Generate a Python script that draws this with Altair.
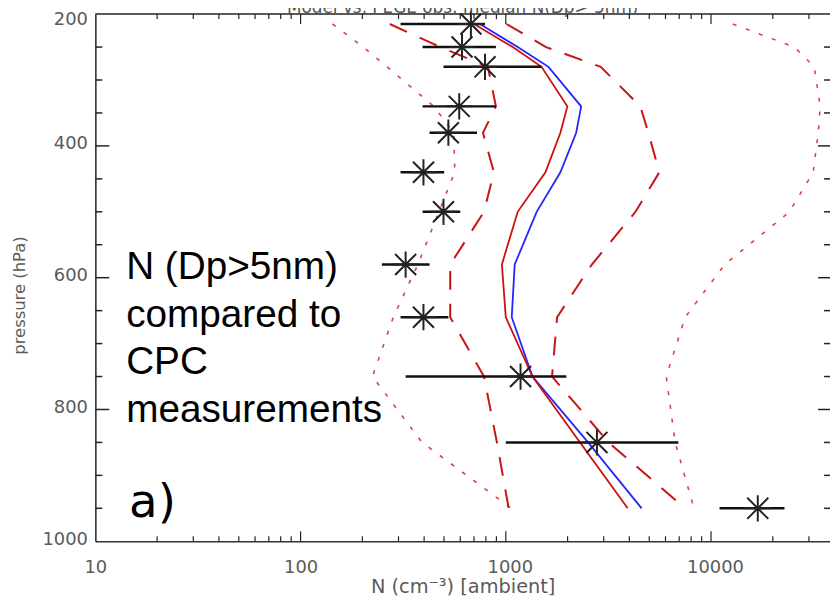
import altair as alt
import pandas as pd

# ---------------- data ----------------
p_levels = [215, 250, 280, 340, 380, 440, 500, 580, 660, 750, 850, 950]

# observations (CPC) : median and horizontal range
obs_n = [676, 612, 792, 593, 525, 397, 497, 325, 397, 1180, 2780, 16900]
obs_lo = [307, 393, 497, 393, 425, 307, 393, 249, 307, 325, 1000, 11000]
obs_hi = [792, 895, 1493, 895, 724, 501, 600, 425, 525, 1972, 6930, 22800]

# model profiles
model_red = [700, 1081, 1493, 1995, 1845, 1560, 1143, 957, 1000, 1349, 2301, 3926]
model_blue = [748, 1143, 1614, 2329, 2203, 1845, 1414, 1105, 1069, 1349, 2518, 4592]
red_p25 = [272, 480, 818, 895, 774, 875, 783, 536, 536, 783, 905, 1033]
red_p75 = [1006, 1570, 2900, 4525, 4950, 5600, 4285, 2625, 1778, 1680, 3170, 7480]
red_p10 = [143, 202, 264, 446, 558, 564, 472, 373, 283, 224, 391, 1064]
red_p90 = [12760, 25470, 31820, 34040, 33300, 31470, 24110, 11670, 7480, 6050, 6690, 8260]

# axis ticks
x_labels = [10, 100, 1000, 10000]
x_minor = [20, 30, 40, 50, 60, 70, 80, 90,
           200, 300, 400, 500, 600, 700, 800, 900,
           2000, 3000, 4000, 5000, 6000, 7000, 8000, 9000,
           20000, 30000]
x_major = [100, 1000, 10000]
y_labels = [200, 400, 600, 800, 1000]
y_minor = [250, 300, 350, 450, 500, 550, 650, 700, 750, 850, 900, 950]
y_major = [400, 600, 800]

title_text = "Model vs. PEGE obs: median N(Dp> 5nm)"
note_lines = ["N (Dp>5nm)", "compared to", "CPC", "measurements"]
panel_label = "a)"

# ---------------- layout ----------------
W, H = 740, 531
FONT = "DejaVu Sans"
LABEL_COLOR = "#5a5a5a"

xs = alt.Scale(type="log", domain=[10, 38000], nice=False)
ys = alt.Scale(domain=[200, 1000], reverse=True, nice=False, zero=False)

x_axis = alt.Axis(
    values=x_labels, format="d", ticks=False, grid=False,
    domain=True, domainColor="#333333", domainWidth=1.5,
    labelFont=FONT, labelFontSize=18, labelColor=LABEL_COLOR,
    labelPadding=17, labelFlush=False,
    labelOffset={"condition": {"test": "datum.value >= 1000", "value": 4}, "value": 0},
    title="N (cm\u207b\u00b3) [ambient]", titleFont=FONT,
    titleFontSize=19.5, titleFontWeight="normal", titleColor=LABEL_COLOR,
    titleY=46, titleBaseline="middle",
)
y_axis = alt.Axis(
    values=y_labels, format="d", ticks=False, grid=False,
    domain=True, domainColor="#222222", domainWidth=1.5,
    labelFont=FONT, labelFontSize=18, labelColor=LABEL_COLOR,
    labelPadding=8, labelFlush=False,
    labelOffset={"condition": {"test": "datum.value == 200", "value": 5}, "value": -2},
    title="pressure (hPa)", titleFont=FONT, titleFontSize=16.5,
    titleFontWeight="normal", titleColor=LABEL_COLOR,
    titleAngle=-90, titleX=-76, titleY=283, titleBaseline="middle",
)


def X(field):
    return alt.X(field, scale=xs, axis=x_axis)


def Y(field):
    return alt.Y(field, scale=ys, axis=y_axis)


rows = []
for name, vals in [("p10", red_p10), ("p90", red_p90), ("p25", red_p25),
                   ("p75", red_p75), ("blue", model_blue), ("red", model_red)]:
    for i, (p, n) in enumerate(zip(p_levels, vals)):
        rows.append({"series": name, "i": i, "p": p, "n": n})
lines_df = pd.DataFrame(rows)

obs_df = pd.DataFrame({"p": p_levels, "n": obs_n, "lo": obs_lo, "hi": obs_hi})


def line_layer(series, color, width, dash=None):
    kw = dict(color=color, strokeWidth=width)
    if dash:
        kw["strokeDash"] = dash
    return (
        alt.Chart(lines_df)
        .transform_filter(alt.FieldOneOfPredicate(field="series", oneOf=series))
        .mark_line(**kw)
        .encode(x=X("n:Q"), y=Y("p:Q"), detail="series:N", order="i:Q")
    )


dotted = line_layer(["p10", "p90"], "#d84444", 1.6, [4, 10])
dashed = line_layer(["p25", "p75"], "#c81414", 2, [19, 14])
blue = line_layer(["blue"], "#2424ff", 1.8)
red = line_layer(["red"], "#cc1010", 1.8)

bars = alt.Chart(obs_df).mark_rule(color="#111111", strokeWidth=2.5).encode(
    x=X("lo:Q"), x2="hi:Q", y=Y("p:Q")
)

star_path = "M0,-1L0,1M-1,0L1,0M-0.8,-0.8L0.8,0.8M-0.8,0.8L0.8,-0.8"
stars = alt.Chart(obs_df).mark_point(
    shape=star_path, filled=False, size=700, strokeWidth=2, color="#222222", opacity=1
).encode(x=X("n:Q"), y=Y("p:Q"))


# ---------------- frame ticks (inward) ----------------
def yticks(vals, x0, x1):
    return alt.Chart(pd.DataFrame({"p": vals})).mark_rule(
        color="#222222", strokeWidth=1.5
    ).encode(y=Y("p:Q"), x=alt.value(x0), x2=alt.value(x1))


def xticks(vals, y0, y1):
    return alt.Chart(pd.DataFrame({"n": vals})).mark_rule(
        color="#222222", strokeWidth=1.2
    ).encode(x=X("n:Q"), y=alt.value(y0), y2=alt.value(y1))


ticks = [
    yticks(y_minor, 0, 7), yticks(y_major, 0, 14),
    yticks(y_minor, W - 6, W), yticks(y_major, W - 12, W),
    xticks(x_minor, H, H - 5), xticks(x_major, H, H - 10),
    xticks(x_minor, 0, 5), xticks(x_major, 0, 10),
]

top_frame = alt.Chart(pd.DataFrame({"k": [0]})).mark_rule(
    color="#222222", strokeWidth=1.5
).encode(x=alt.value(0), x2=alt.value(W), y=alt.value(0))

title_mark = alt.Chart(pd.DataFrame({"t": [title_text]})).mark_text(
    font=FONT, fontSize=17, color="#555555", align="center", baseline="alphabetic"
).encode(x=alt.value(370), y=alt.value(-1), text="t:N")

note = alt.Chart(pd.DataFrame({"t": ["\n".join(note_lines)]})).mark_text(
    font="Liberation Sans", fontSize=39, color="#000000", align="left",
    baseline="alphabetic", lineBreak="\n", lineHeight=48
).encode(x=alt.value(31), y=alt.value(267), text="t:N")

panel = alt.Chart(pd.DataFrame({"t": [panel_label]})).mark_text(
    font=FONT, fontSize=47, color="#000000", align="left", baseline="alphabetic"
).encode(x=alt.value(34), y=alt.value(507), text="t:N")

chart = alt.layer(
    dotted, dashed, blue, red, bars, stars, *ticks, top_frame, title_mark, note, panel
).properties(
    width=W, height=H,
    autosize=alt.AutoSizeParams(type="none"),
    padding={"left": 88, "top": 4, "right": 0, "bottom": 57},
).configure_view(stroke=None)

chart.save("out.html", embed_options={"renderer": "svg", "actions": False})
